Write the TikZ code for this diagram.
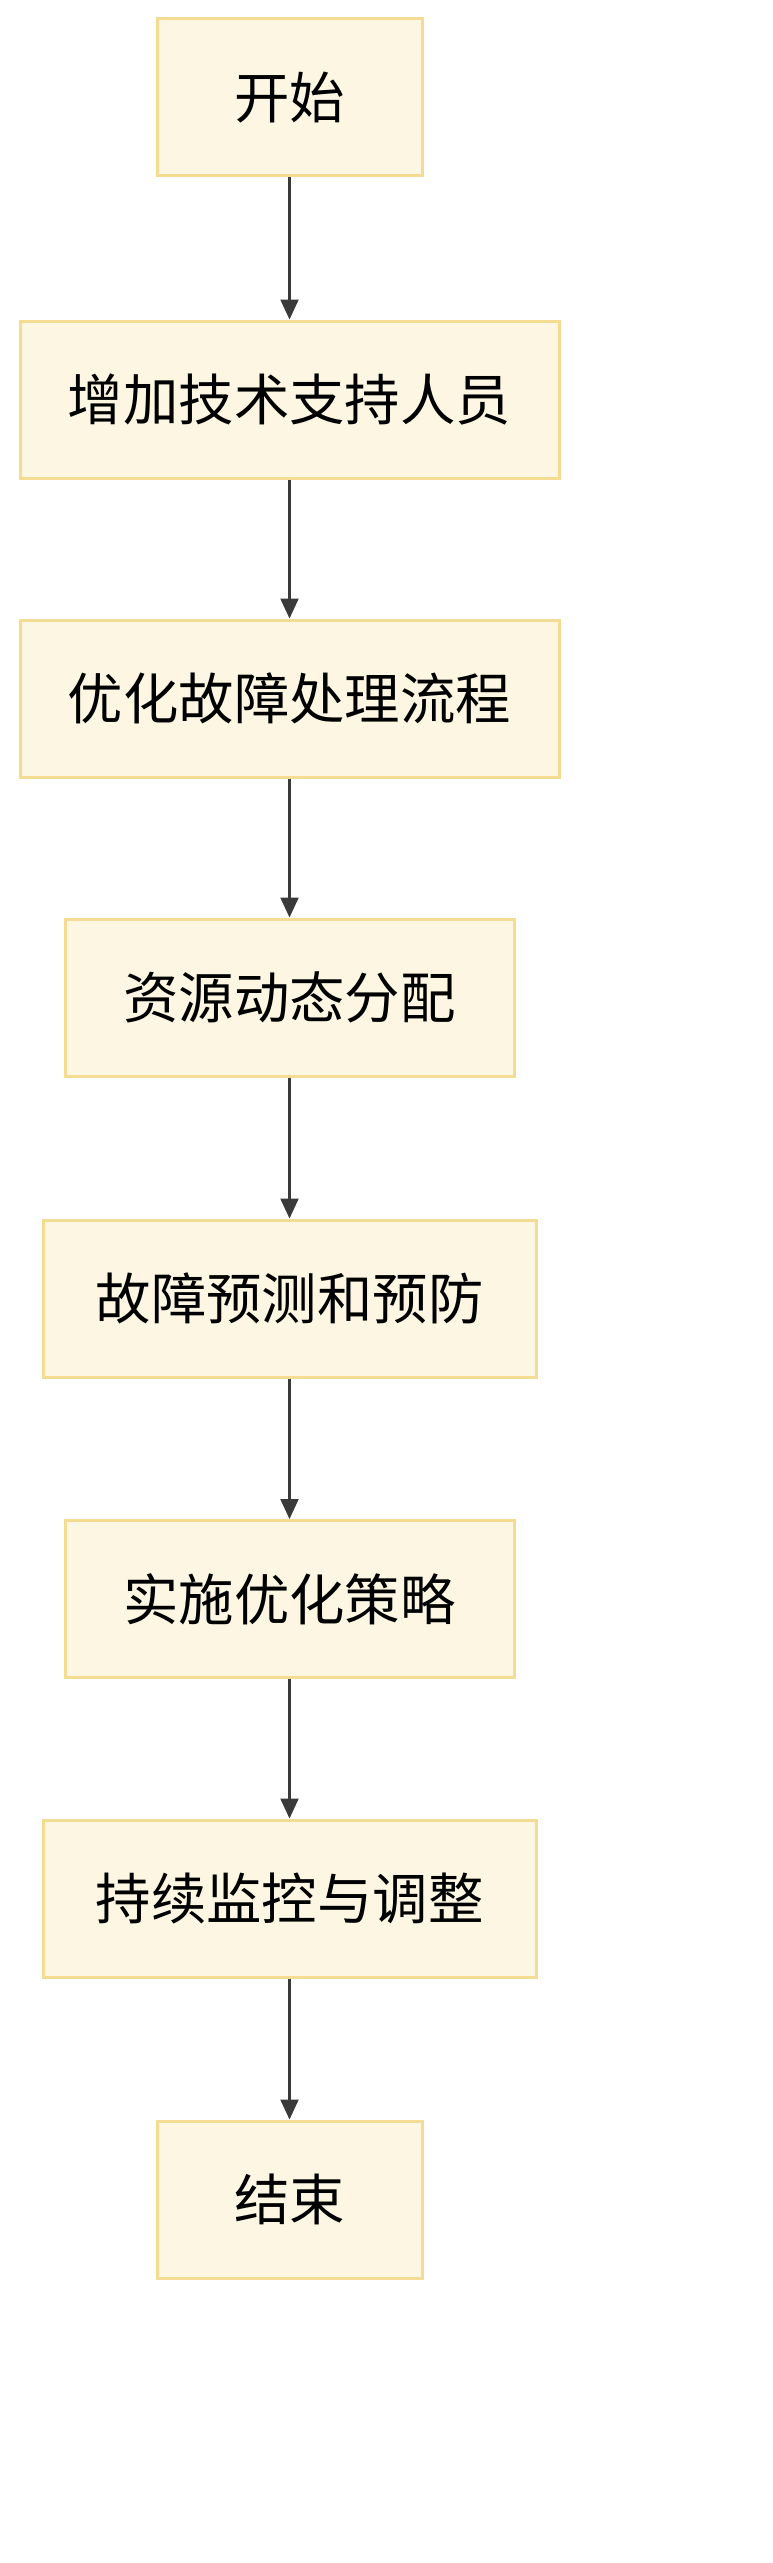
\documentclass[tikz,border=0pt]{standalone}
\usepackage{fontspec}
\newfontfamily\cjk{Noto Sans CJK SC}
\usetikzlibrary{arrows.meta}
\definecolor{boxfill}{HTML}{FCF6E2}
\definecolor{boxline}{HTML}{F4DC92}
\definecolor{arrowc}{HTML}{3A3A3A}
\tikzset{
  stepbox/.style={draw=boxline, line width=1.5pt, fill=boxfill, minimum height=78.5pt,
    inner sep=0pt, font=\cjk\fontsize{27.7}{32}\selectfont, text=black},
  flow/.style={draw=arrowc, line width=1.1pt, -{Triangle[length=10pt,width=9pt]}}
}
\begin{document}
\begin{tikzpicture}[x=0.5pt,y=-0.5pt]
\useasboundingbox (0,0) rectangle (772,2563);
\fill[white] (0,0) rectangle (772,2563);
\node[stepbox, minimum width=132.5pt] (n1) at (289.5,97.5) {开始};
\node[stepbox, minimum width=269.5pt] (n2) at (289.5,399.5) {增加技术支持人员};
\node[stepbox, minimum width=269.5pt] (n3) at (289.5,698.5) {优化故障处理流程};
\node[stepbox, minimum width=224.5pt] (n4) at (289.5,997.5) {资源动态分配};
\node[stepbox, minimum width=246.5pt] (n5) at (289.5,1298.5) {故障预测和预防};
\node[stepbox, minimum width=224.5pt] (n6) at (289.5,1599) {实施优化策略};
\node[stepbox, minimum width=246.5pt] (n7) at (289.5,1898.5) {持续监控与调整};
\node[stepbox, minimum width=132.5pt] (n8) at (289.5,2199.5) {结束};
\draw[flow] (n1) -- (n2);
\draw[flow] (n2) -- (n3);
\draw[flow] (n3) -- (n4);
\draw[flow] (n4) -- (n5);
\draw[flow] (n5) -- (n6);
\draw[flow] (n6) -- (n7);
\draw[flow] (n7) -- (n8);
\end{tikzpicture}
\end{document}
